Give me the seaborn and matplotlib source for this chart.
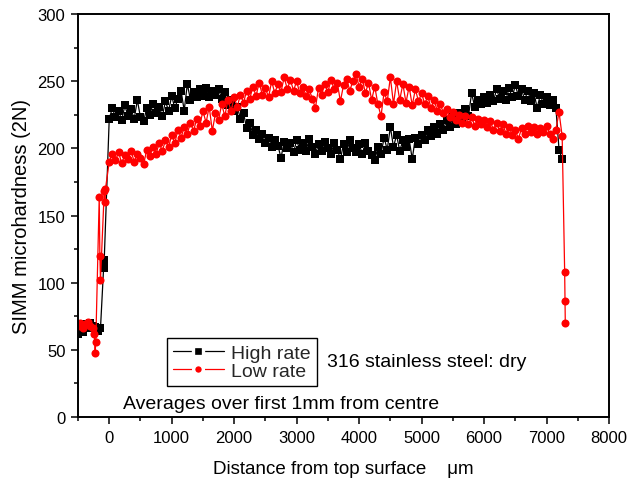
import numpy as np
import pandas as pd
import matplotlib
matplotlib.use("Agg")
import matplotlib.pyplot as plt
import seaborn as sns
from matplotlib.ticker import MultipleLocator

# ---- indentation traverse, High rate ----
high_surface_x = [-500, -460, -420, -380, -340, -300, -260, -220, -180, -140, -90, -80]
high_surface_hv = [62, 68, 63, 69, 66, 70, 68, 67, 64, 66, 111, 117]
high_x_start, high_x_step = 0, 50
high_hv = [
    222, 230, 223, 228, 221, 232, 224, 229, 222, 236, 223, 220, 230, 225, 233, 226,
    231, 224, 235, 228, 239, 230, 237, 243, 228, 248, 236, 242, 238, 244, 239, 245,
    238, 243, 240, 244, 237, 242, 232, 236, 228,
    231, 222, 226, 215, 219, 210, 214, 207, 211, 204, 208, 201, 206, 202, 193, 205,
    200, 204, 197, 206,
    199, 204, 198, 207, 201, 196, 203, 198, 205, 200, 196, 204, 199, 192, 203, 197,
    206, 200, 197, 203,
    196, 204, 198, 195, 191, 201, 196, 208, 199, 216, 201, 210, 198, 206, 201, 207,
    192, 208, 203, 210,
    206, 214, 209, 216, 211, 218, 214, 221, 216, 223, 218, 226, 220, 229, 224, 241,
    231, 236, 233, 238, 234, 240, 235, 244, 237, 243, 236, 245, 238, 247, 239, 244,
    236, 243, 235, 241, 230, 240, 233, 238, 232, 236, 230, 199, 192,
]

# ---- indentation traverse, Low rate ----
low_surface_x = [-500, -460, -420, -380, -340, -300, -260, -240, -225, -215,
                 -160, -150, -140, -80, -70, -60]
low_surface_hv = [68, 70, 66, 69, 71, 68, 66, 62, 48, 56,
                  164, 120, 102, 168, 160, 170]
low_x_start, low_x_step = 0, 50
low_hv = [
    190, 196, 191, 197, 189, 195, 192, 198, 190, 196, 193, 188, 199, 194, 201, 196,
    204, 198, 206, 201, 210, 204, 214, 208, 216, 211, 219, 213, 222, 217, 228, 219,
    231, 213, 226, 221, 233, 224, 236, 228, 238,
    231, 240, 234, 243, 237, 246, 239, 249, 240, 245, 238, 250, 241, 248, 242, 253,
    244, 251, 243, 250,
    241, 246, 239, 244, 237, 230, 245, 240, 248, 242, 251, 244, 249, 235, 247, 252,
    243, 250, 255, 246,
    252, 241, 249, 236, 246, 233, 224, 242, 235, 253, 233, 250, 236, 248, 234, 246,
    232, 244, 235, 241,
    233, 239, 230, 236, 228, 233, 226, 229, 223, 227, 221, 225, 219, 224, 218, 223,
    217, 222, 218, 221, 216, 220, 214, 219, 213, 218, 211, 216, 210, 214, 207, 215,
    211, 217, 212, 216, 211, 215, 212, 217, 211, 207, 214, 227, 209,
]
low_edge_x = [7290, 7295, 7300]
low_edge_hv = [108, 86, 70]

x_ticks = [0, 1000, 2000, 3000, 4000, 5000, 6000, 7000, 8000]
y_ticks = [0, 50, 100, 150, 200, 250, 300]


def traverse(surface_x, surface_hv, start, step, hv, edge_x=(), edge_hv=()):
    grid = start + step * np.arange(len(hv))
    x = np.concatenate([surface_x, grid, edge_x])
    y = np.concatenate([surface_hv, hv, edge_hv])
    return pd.DataFrame({"x": x, "hv": y})


high = traverse(high_surface_x, high_surface_hv, high_x_start, high_x_step, high_hv)
low = traverse(low_surface_x, low_surface_hv, low_x_start, low_x_step, low_hv,
               low_edge_x, low_edge_hv)

sns.set_theme(style="white")
plt.rcParams["font.family"] = ["Liberation Sans", "DejaVu Sans"]

fig = plt.figure(figsize=(6.3, 4.85), dpi=100)
ax = fig.add_axes([0.1238, 0.1381, 0.8429, 0.8309])

sns.lineplot(data=high, x="x", y="hv", ax=ax, sort=False, estimator=None,
             color="black", lw=0.9, marker="s", markersize=5.3,
             markeredgecolor="black", markeredgewidth=0, label="High rate")
sns.lineplot(data=low, x="x", y="hv", ax=ax, sort=False, estimator=None,
             color="#ff0000", lw=0.9, marker="o", markersize=5.8,
             markeredgecolor="#ff0000", markeredgewidth=0, label="Low rate")

ax.set_xlim(-500, 8000)
ax.set_ylim(0, 300)
ax.set_xticks(x_ticks)
ax.set_yticks(y_ticks)
ax.xaxis.set_minor_locator(MultipleLocator(500))
ax.yaxis.set_minor_locator(MultipleLocator(25))
ax.tick_params(axis="both", which="major", direction="out", length=5, width=1.1,
               color="black", labelsize=12, labelcolor="black",
               bottom=True, left=True, top=False, right=False, pad=4)
ax.tick_params(axis="both", which="minor", direction="out", length=3, width=1.1,
               color="black", bottom=True, left=True, top=False, right=False)

for side in ["left", "right", "top", "bottom"]:
    ax.spines[side].set_visible(True)
    ax.spines[side].set_color("black")
    ax.spines[side].set_linewidth(1.4)

ax.set_xlabel("Distance from top surface    \u03bcm", fontsize=13.5, color="black",
              labelpad=11)
ax.set_ylabel("SIMM microhardness (2N)", fontsize=14.5, color="black", labelpad=5)

leg = ax.legend(loc="lower left", bbox_to_anchor=(0.168, 0.077), fontsize=14,
                frameon=True, fancybox=False, edgecolor="black", framealpha=1,
                handlelength=2.6, handletextpad=0.4, borderpad=0.3,
                labelspacing=0.05, borderaxespad=0)
leg.get_frame().set_linewidth(1.0)
# legend keys: marker with a white gap around it on the line
for h in leg.legend_handles:
    h.set_markersize(7.0)
    h.set_markeredgecolor("white")
    h.set_markeredgewidth(2.4)

ax.text(3480, 41, "316 stainless steel: dry", fontsize=14, color="black",
        va="center", ha="left")
ax.text(224, 10, "Averages over first 1mm from centre", fontsize=14,
        color="black", va="center", ha="left")

fig.savefig("out.png", dpi=100, facecolor="white")
